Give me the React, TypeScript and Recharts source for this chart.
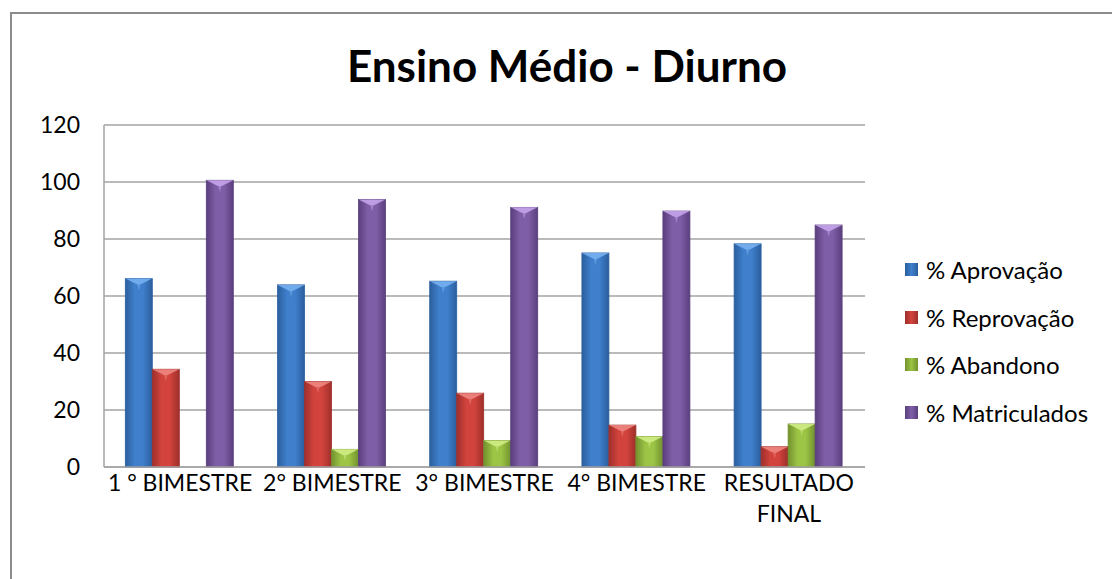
import { BarChart, Bar, XAxis, YAxis, CartesianGrid, Legend } from 'recharts';

const categories = ['1 ° BIMESTRE', '2° BIMESTRE', '3° BIMESTRE', '4° BIMESTRE', 'RESULTADO FINAL'];
const aprovacao = [66.1, 63.9, 65.2, 75.1, 78.3];
const reprovacao = [34.3, 30.0, 25.9, 14.7, 7.1];
const abandono = [0, 6.2, 9.3, 10.7, 15.1];
const matriculados = [100.6, 93.9, 91.1, 89.8, 84.9];
const yTicks = [0, 20, 40, 60, 80, 100, 120];

const SERIES = [
  { key: 'aprov', name: '% Aprovação', values: aprovacao, base: '#3f7fcc', dark: '#2b5f9e', light: '#79b4f2' },
  { key: 'reprov', name: '% Reprovação', values: reprovacao, base: '#d2433d', dark: '#9e2f2b', light: '#f08a84' },
  { key: 'aband', name: '% Abandono', values: abandono, base: '#9cc445', dark: '#72922f', light: '#d4f08a' },
  { key: 'matric', name: '% Matriculados', values: matriculados, base: '#7f5ea8', dark: '#5a3f7d', light: '#c9a8f0' },
];

const data = categories.map((c, i) => {
  const row: Record<string, string | number> = { cat: c };
  SERIES.forEach((s) => { row[s.key] = s.values[i]; });
  return row;
});

const FONT = 'Lato, "Noto Sans", sans-serif';

function BevelBar(props: any) {
  const { x, y, width, height, sk } = props;
  if (!height || height <= 0) return null;
  const s = SERIES.find((q) => q.key === sk)!;
  const b = Math.min(6, height / 2, width / 2);
  return (
    <g>
      <rect x={x} y={y} width={width} height={height} fill={`url(#g-${sk})`} stroke={s.dark} strokeWidth={0.8} />
      <polygon points={`${x},${y} ${x + width},${y} ${x + width - b * 2},${y + b} ${x + b * 2},${y + b}`} fill={s.light} opacity={0.85} />
      <polygon points={`${x + b * 2},${y + b} ${x + width - b * 2},${y + b} ${x + width / 2},${y + b * 2}`} fill={s.light} opacity={0.5} />
    </g>
  );
}

function XTick({ x, y, payload }: any) {
  const words = String(payload.value) === 'RESULTADO FINAL' ? ['RESULTADO', 'FINAL'] : [String(payload.value)];
  return (
    <text x={x} y={y} textAnchor="middle" fontSize={23} fill="#000" fontFamily={FONT}>
      {words.map((w, i) => (
        <tspan key={i} x={x} dy={i === 0 ? 16 : 31}>{w}</tspan>
      ))}
    </text>
  );
}

function LegendBox() {
  return (
    <div style={{ fontFamily: FONT, fontSize: 24, color: '#000' }}>
      {SERIES.map((s) => (
        <div key={s.key} style={{ display: 'flex', alignItems: 'center', height: 47.5 }}>
          <span style={{
            display: 'inline-block', width: 13, height: 13, marginRight: 8,
            background: `linear-gradient(90deg, ${s.dark}, ${s.base} 50%, ${s.dark})`,
          }} />
          <span>{s.name}</span>
        </div>
      ))}
    </div>
  );
}

export default function App() {
  return (
    <div style={{ position: 'absolute', left: 0, top: 0, width: 1112, height: 579, overflow: 'hidden', background: '#fff' }}>
      <div style={{ position: 'absolute', left: 10, top: 12, width: 1200, height: 700, borderTop: '2px solid #8c8c8c', borderLeft: '2px solid #8c8c8c' }} />
      <div style={{ position: 'absolute', left: 0, top: 39, width: 1134, textAlign: 'center', fontFamily: FONT, fontWeight: 700, fontSize: 44, color: '#000' }}>
        Ensino Médio - Diurno
      </div>
      <div style={{ position: 'absolute', left: 0, top: 0 }}>
        <BarChart width={1112} height={579} data={data} margin={{ top: 125, right: 247, bottom: 72, left: 24 }}
          barCategoryGap="14%" barGap={0}>
          <defs>
            {SERIES.map((s) => (
              <linearGradient key={s.key} id={`g-${s.key}`} x1="0" y1="0" x2="1" y2="0">
                <stop offset="0%" stopColor={s.dark} />
                <stop offset="35%" stopColor={s.base} />
                <stop offset="65%" stopColor={s.base} />
                <stop offset="100%" stopColor={s.dark} />
              </linearGradient>
            ))}
          </defs>
          <CartesianGrid vertical={false} stroke="#a3a3a3" strokeWidth={1.5} />
          <XAxis dataKey="cat" tick={<XTick />} interval={0} tickLine={false} axisLine={{ stroke: '#a3a3a3', strokeWidth: 1.5 }} height={40} />
          <YAxis domain={[0, 120]} ticks={yTicks} width={80} tickLine={false} tickMargin={18}
            axisLine={{ stroke: '#a3a3a3', strokeWidth: 1.5 }}
            tick={{ fontSize: 23, fill: '#000', fontFamily: FONT }} />
          <Legend layout="vertical" align="center" verticalAlign="middle" content={<LegendBox />}
            wrapperStyle={{ left: 905, top: 246, width: 210 }} />
          {SERIES.map((s) => (
            <Bar key={s.key} dataKey={s.key} name={s.name} fill={s.base} isAnimationActive={false}
              shape={(p: any) => <BevelBar {...p} sk={s.key} />} />
          ))}
        </BarChart>
      </div>
    </div>
  );
}
